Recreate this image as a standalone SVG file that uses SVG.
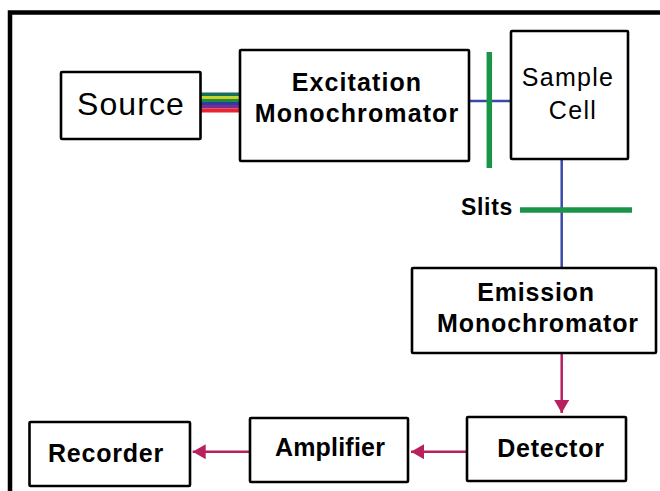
<svg xmlns="http://www.w3.org/2000/svg" width="660" height="491" viewBox="0 0 660 491">
<style>
.box{fill:#fff;stroke:#000;stroke-width:2.6}
.t{font-family:"Liberation Sans",Arial,sans-serif;font-size:25px;font-weight:bold;fill:#000;text-anchor:middle}
.beam{stroke:#3a4aa8;stroke-width:2.5;fill:none}
.slit{stroke:#1a9447;stroke-width:5.5;fill:none}
.sig{stroke:#b8205e;stroke-width:2.5;fill:none}
</style>
<defs>
<marker id="ah" markerUnits="userSpaceOnUse" markerWidth="14" markerHeight="16" refX="13" refY="7.5" orient="auto">
<path d="M0,0 L13,7.5 L0,15 Z" fill="#b8205e"/>
</marker>
</defs>
<rect width="660" height="491" fill="#fff"/>
<path d="M10,491 V12.5 H660" fill="none" stroke="#000" stroke-width="4.5"/>
<g id="connectors">
<rect x="200" y="92.5" width="40" height="3.5" fill="#17705a"/>
<rect x="200" y="96" width="40" height="3" fill="#c8d22a"/>
<rect x="200" y="99" width="40" height="3" fill="#1e8c3c"/>
<rect x="200" y="102" width="40" height="3" fill="#2f3c9c"/>
<rect x="200" y="105" width="40" height="3.5" fill="#7b2b95"/>
<rect x="200" y="108.5" width="40" height="4" fill="#e8242c"/>
<line class="beam" x1="469" y1="101" x2="511" y2="101"/>
<line class="beam" x1="561.7" y1="159" x2="561.7" y2="268"/>
<line class="slit" x1="489.3" y1="52" x2="489.3" y2="168"/>
<line class="slit" x1="520" y1="210" x2="632" y2="210"/>
<line class="sig" x1="561.7" y1="353" x2="561.7" y2="413" marker-end="url(#ah)"/>
<line class="sig" x1="467" y1="451.7" x2="411" y2="451.7" marker-end="url(#ah)"/>
<line class="sig" x1="250" y1="451.7" x2="192.7" y2="451.7" marker-end="url(#ah)"/>
</g>
<g id="source">
<rect class="box" x="61" y="72" width="139.5" height="67" rx="1"/>
<text class="t" x="131" y="115" style="font-weight:normal;font-size:32px;letter-spacing:1.1px">Source</text>
</g>
<g id="excitation">
<rect class="box" x="240" y="50" width="229" height="111" rx="1"/>
<text class="t" x="357" y="91" style="letter-spacing:1.1px">Excitation</text>
<text class="t" x="357" y="122" style="letter-spacing:1.1px">Monochromator</text>
</g>
<g id="sample">
<rect class="box" x="511" y="31" width="117" height="128" rx="1"/>
<text class="t" x="568" y="86" style="font-weight:normal;font-size:25px;letter-spacing:1.3px">Sample</text>
<text class="t" x="573" y="119" style="font-weight:normal;font-size:25px;letter-spacing:1.3px">Cell</text>
</g>
<g id="slits-label">
<text class="t" x="487" y="215" style="font-size:23px;letter-spacing:0.7px">Slits</text>
</g>
<g id="emission">
<rect class="box" x="412" y="268" width="244" height="85" rx="1"/>
<text class="t" x="536" y="301" style="letter-spacing:0.8px">Emission</text>
<text class="t" x="538" y="332" style="letter-spacing:0.9px">Monochromator</text>
</g>
<g id="detector">
<rect class="box" x="467" y="417" width="159" height="64" rx="1"/>
<text class="t" x="551" y="457" style="letter-spacing:0.75px">Detector</text>
</g>
<g id="amplifier">
<rect class="box" x="250" y="418" width="158" height="64" rx="1"/>
<text class="t" x="330" y="456" style="letter-spacing:0.2px">Amplifier</text>
</g>
<g id="recorder">
<rect class="box" x="29.5" y="422" width="160.5" height="64" rx="1"/>
<text class="t" x="106" y="462" style="letter-spacing:0.8px">Recorder</text>
</g>
</svg>
